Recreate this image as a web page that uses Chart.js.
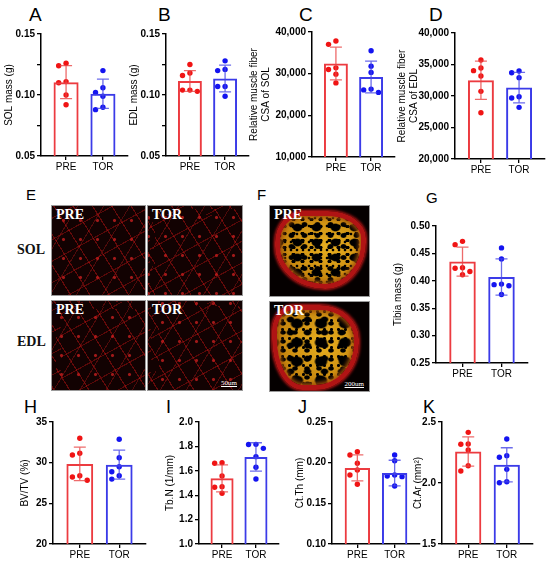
<!DOCTYPE html>
<html><head><meta charset="utf-8">
<script src="https://cdn.jsdelivr.net/npm/chart.js@4.4.0/dist/chart.umd.min.js"></script>
<style>
body{margin:0;background:#fff;}
#wrap{position:relative;width:550px;height:565px;overflow:hidden;font-family:'Liberation Sans',Arial,sans-serif;background:#fff;}
canvas{position:absolute;}
.lt{position:absolute;color:#000;font-family:'Liberation Sans',Arial,sans-serif;}
.img{position:absolute;border:1px solid #9a9a9a;box-sizing:border-box;overflow:hidden;background:#050000;}
.muscle{background-color:#120202;
 background-image:
  repeating-linear-gradient(58deg, transparent 0 15.3px, rgba(200,20,20,.45) 15.3px 16.4px),
  repeating-linear-gradient(-29deg, transparent 0 17.7px, rgba(190,18,18,.4) 17.7px 18.8px),
  repeating-linear-gradient(121deg, transparent 0 21.4px, rgba(220,30,30,.3) 21.4px 22.4px),
  radial-gradient(circle, rgba(255,40,40,.6) 0 8%, transparent 16%);
 background-size:auto, auto, auto, 17px 19px;
 background-position:0 0, 0 0, 0 0, 3px 5px;}
.il{position:absolute;left:4px;top:1px;color:#fff;font:bold 14px 'Liberation Serif','DejaVu Serif',serif;}
.rl{position:absolute;font:bold 14px 'Liberation Serif','DejaVu Serif',serif;color:#111;}
.sb{position:absolute;right:5px;bottom:3px;color:#fff;font:7px 'Liberation Serif',serif;text-decoration:underline;}
.bone{position:absolute;box-sizing:border-box;border:5px solid #b01414;box-shadow:0 0 3px 1px #c81818, inset 0 0 4px 2px #a05008;
 background-image:
  radial-gradient(ellipse, #000 0 26%, transparent 40%),
  radial-gradient(ellipse, #000 0 24%, transparent 38%),
  radial-gradient(circle, #000 0 20%, transparent 34%),
  radial-gradient(ellipse, #000 0 30%, transparent 42%),
  radial-gradient(ellipse at 60% 45%, #e8b020 0, #c98a10 60%, #b87a0c 100%);
 background-size:9px 7px, 13px 11px, 6px 8px, 19px 15px, auto;
 background-position:0 0, 5px 3px, 2px 6px, 8px 4px, 0 0;}
</style></head>
<body><div id="wrap">
 <div class="lt" style="left:29px;top:5px;font-size:19px;line-height:19px;">A</div>
 <div class="lt" style="left:158px;top:5px;font-size:19px;line-height:19px;">B</div>
 <div class="lt" style="left:299px;top:5px;font-size:19px;line-height:19px;">C</div>
 <div class="lt" style="left:429px;top:5px;font-size:19px;line-height:19px;">D</div>
 <div class="lt" style="left:26px;top:187px;font-size:15px;line-height:15px;">E</div>
 <div class="lt" style="left:257px;top:187px;font-size:15px;line-height:15px;">F</div>
 <div class="lt" style="left:426px;top:190px;font-size:15px;line-height:15px;">G</div>
 <div class="lt" style="left:24px;top:398px;font-size:18px;line-height:18px;">H</div>
 <div class="lt" style="left:166px;top:398px;font-size:18px;line-height:18px;">I</div>
 <div class="lt" style="left:298px;top:398px;font-size:18px;line-height:18px;">J</div>
 <div class="lt" style="left:423px;top:398px;font-size:18px;line-height:18px;">K</div>

 <div class="rl" style="left:17px;top:242px;">SOL</div>
 <div class="rl" style="left:17px;top:334px;">EDL</div>
 <div class="img muscle" style="left:51px;top:205px;width:95px;height:91px;"><div class="il">PRE</div></div>
 <div class="img muscle" style="left:147px;top:205px;width:96px;height:91px;background-position:7px 3px,2px 9px,5px 0,9px 2px;"><div class="il">TOR</div></div>
 <div class="img muscle" style="left:51px;top:300px;width:95px;height:91px;background-position:4px 8px,9px 1px,0 6px,1px 7px;"><div class="il">PRE</div></div>
 <div class="img muscle" style="left:147px;top:300px;width:96px;height:91px;background-position:11px 5px,3px 3px,8px 10px,6px 12px;"><div class="il">TOR</div><div class="sb">50um</div></div>

 <div class="img" style="left:269px;top:205px;width:101px;height:92px;">
  <div class="bone" style="left:5px;top:5px;width:91px;height:78px;border-radius:30% 42% 45% 55% / 40% 35% 60% 55%;"></div>
  <div class="il">PRE</div></div>
 <div class="img" style="left:269px;top:301px;width:101px;height:91px;">
  <div class="bone" style="left:2px;top:3px;width:87px;height:85px;border-radius:25% 45% 50% 35% / 30% 40% 55% 60%;background-size:12px 9px, 17px 13px, 7px 9px, 24px 19px, auto;"></div>
  <div class="il">TOR</div><div class="sb">200um</div></div>
</div>
<script>
const categories = ['PRE','TOR'];

// A: SOL mass (g)
const aMean = [0.1105, 0.101];
const aSD   = [0.0135, 0.012];
const aPre  = [0.126, 0.124, 0.111, 0.110, 0.100, 0.092];
const aTor  = [0.120, 0.106, 0.102, 0.099, 0.090, 0.088];
const aTickValues = [0.05, 0.075, 0.10, 0.125, 0.15];
const aTickLabels = ['0.05', '', '0.10', '', '0.15'];

// B: EDL mass (g)
const bMean = [0.1115, 0.1135];
const bSD   = [0.0085, 0.011];
const bPre  = [0.125, 0.118, 0.116, 0.104, 0.104, 0.103];
const bTor  = [0.128, 0.121, 0.120, 0.107, 0.107, 0.099];
const bTickValues = [0.05, 0.075, 0.10, 0.125, 0.15];
const bTickLabels = ['0.05', '', '0.10', '', '0.15'];

// C: Relative muscle fiber CSA of SOL
const cMean = [32450, 29200];
const cSD   = [3930, 3800];
const cPre  = [37830, 37040, 31400, 31010, 29880, 27790];
const cTor  = [35500, 31800, 30300, 26300, 26100, 25500];
const cTickValues = [10000, 20000, 30000, 40000];
const cTickLabels = ['10,000', '20,000', '30,000', '40,000'];

// D: Relative muscle fiber CSA of EDL
const dMean = [32500, 31330];
const dSD   = [3040, 2430];
const dPre  = [35710, 34440, 34020, 33170, 30740, 27350];
const dTor  = [33970, 33700, 32910, 29890, 29680, 28200];
const dTickValues = [20000, 25000, 30000, 35000, 40000];
const dTickLabels = ['20,000', '25,000', '30,000', '35,000', '40,000'];

// G: Tibia mass (g)
const gMean = [0.435, 0.407];
const gSD   = [0.0265, 0.033];
const gPre  = [0.472, 0.466, 0.424, 0.423, 0.417, 0.411];
const gTor  = [0.460, 0.440, 0.394, 0.391, 0.393, 0.375];
const gTickValues = [0.25, 0.30, 0.35, 0.40, 0.45, 0.50];
const gTickLabels = ['0.25', '0.30', '0.35', '0.40', '0.45', '0.50'];

// H: BV/TV (%)
const hMean = [29.85, 29.75];
const hSD   = [2.07, 1.78];
const hPre  = [33.0, 31.15, 30.94, 28.4, 28.23, 27.83];
const hTor  = [32.87, 30.6, 29.5, 28.88, 28.4, 27.98];
const hTickValues = [20, 25, 30, 35];
const hTickLabels = ['20', '25', '30', '35'];

// I: Tb.N (1/mm)
const iMean = [1.538, 1.714];
const iSD   = [0.11, 0.116];
const iPre  = [1.667, 1.662, 1.557, 1.47, 1.465, 1.416];
const iTor  = [1.817, 1.815, 1.784, 1.716, 1.629, 1.533];
const iTickValues = [1.0, 1.2, 1.4, 1.6, 1.8, 2.0];
const iTickLabels = ['1.0', '1.2', '1.4', '1.6', '1.8', '2.0'];

// J: Ct.Th (mm)
const jMean = [0.1935, 0.1872];
const jSD   = [0.016, 0.0158];
const jPre  = [0.2135, 0.2094, 0.1992, 0.191, 0.1848, 0.1734];
const jTor  = [0.2094, 0.2024, 0.1848, 0.1836, 0.1828, 0.1714];
const jTickValues = [0.10, 0.15, 0.20, 0.25];
const jTickLabels = ['0.10', '0.15', '0.20', '0.25'];

// K: Ct.Ar (mm²)
const kMean = [2.258, 2.149];
const kSD   = [0.12, 0.14];
const kPre  = [2.415, 2.32, 2.318, 2.27, 2.142, 2.098];
const kTor  = [2.361, 2.224, 2.211, 2.112, 2.01, 2.002];
const kTickValues = [1.5, 2.0, 2.5];
const kTickLabels = ['1.5', '2.0', '2.5'];

const panels = [
 {title:'SOL mass (g)', mean:aMean, sd:aSD, pre:aPre, tor:aTor, tv:aTickValues, tl:aTickLabels, L:{axisX:41,right:128,top:34,bottom:156,titleX:9.5}},
 {title:'EDL mass (g)', mean:bMean, sd:bSD, pre:bPre, tor:bTor, tv:bTickValues, tl:bTickLabels, L:{axisX:166,right:249,top:34,bottom:156,titleX:134}},
 {title:['Relative muscle fiber','CSA of SOL'], mean:cMean, sd:cSD, pre:cPre, tor:cTor, tv:cTickValues, tl:cTickLabels, L:{axisX:312,right:395,top:32,bottom:157,titleX:254}},
 {title:['Relative muscle fiber','CSA of EDL'], mean:dMean, sd:dSD, pre:dPre, tor:dTor, tv:dTickValues, tl:dTickLabels, L:{axisX:455,right:545,top:33,bottom:159,titleX:402.5}},
 {title:'Tibia mass (g)', mean:gMean, sd:gSD, pre:gPre, tor:gTor, tv:gTickValues, tl:gTickLabels, L:{axisX:436,right:528,top:226,bottom:363,titleX:398}},
 {title:'BV/TV (%)', mean:hMean, sd:hSD, pre:hPre, tor:hTor, tv:hTickValues, tl:hTickLabels, L:{axisX:53,right:146,top:422,bottom:544,titleX:25}},
 {title:'Tb.N (1/mm)', mean:iMean, sd:iSD, pre:iPre, tor:iTor, tv:iTickValues, tl:iTickLabels, L:{axisX:199,right:279,top:422,bottom:544,titleX:170}},
 {title:'Ct.Th (mm)', mean:jMean, sd:jSD, pre:jPre, tor:jTor, tv:jTickValues, tl:jTickLabels, L:{axisX:332,right:420,top:422,bottom:544,titleX:300}},
 {title:'Ct.Ar (mm²)', mean:kMean, sd:kSD, pre:kPre, tor:kTor, tv:kTickValues, tl:kTickLabels, L:{axisX:442,right:533,top:422,bottom:544,titleX:418}},
];

const barColors = ['#ec3b40', '#3b3be8'];
const dotColors = ['#f01414', '#1414f0'];
const errColors = ['rgba(232,70,70,0.8)', 'rgba(70,70,230,0.8)'];
const XMIN = -0.68, XMAX = 1.68;

Chart.defaults.font.family = "'Liberation Sans', Arial, sans-serif";

const errPlugin = {
  id: 'err',
  afterDatasetDraw(chart, args, opts) {
    if (args.index !== 0) return;
    const ctx = chart.ctx, x = chart.scales.x, y = chart.scales.y;
    opts.mean.forEach((m, i) => {
      const px = x.getPixelForValue(i);
      const yt = y.getPixelForValue(m + opts.sd[i]);
      const yb = y.getPixelForValue(m - opts.sd[i]);
      const cap = 6;
      ctx.save();
      ctx.strokeStyle = errColors[i];
      ctx.lineWidth = 1.3;
      ctx.beginPath();
      ctx.moveTo(px, yt); ctx.lineTo(px, yb);
      ctx.moveTo(px - cap, yt); ctx.lineTo(px + cap, yt);
      ctx.moveTo(px - cap, yb); ctx.lineTo(px + cap, yb);
      ctx.stroke();
      ctx.restore();
    });
  }
};

function swarm(vals, center, pxPerY, pxPerX) {
  const d = 5.4, gap = 7.4;
  const placed = [];
  const out = new Array(vals.length);
  const order = vals.map((v, i) => i).sort((a, b) => vals[b] - vals[a]);
  order.forEach(i => {
    const yy = vals[i] * pxPerY;
    const cands = [0];
    for (let k = 1; k < 6; k++) cands.push(-k * gap, k * gap);
    for (const dx of cands) {
      if (placed.every(q => Math.hypot(q.x - dx, q.y - yy) >= d)) {
        placed.push({x: dx, y: yy});
        out[i] = {x: center + dx / pxPerX, y: vals[i]};
        break;
      }
    }
  });
  return out;
}

const wrap = document.getElementById('wrap');
panels.forEach(p => {
  const L = p.L;
  const tSize = 10, tLH = 1.2, lh = tSize * tLH;
  const canvasLeft = Math.floor(L.titleX - lh / 2 - 2);
  const padTop = L.titleX - canvasLeft - lh / 2;
  const Wy = L.axisX - canvasLeft;
  const pt = 8, Hx = 22, pr = 4;
  const cTop = L.top - pt;
  const W = L.right - canvasLeft + pr;
  const H = L.bottom - L.top + pt + Hx;
  const cv = document.createElement('canvas');
  cv.width = W; cv.height = H;
  cv.style.left = canvasLeft + 'px'; cv.style.top = cTop + 'px';
  cv.style.width = W + 'px'; cv.style.height = H + 'px';
  wrap.appendChild(cv);

  const ymin = p.tv[0], ymax = p.tv[p.tv.length - 1];
  const pxPerY = (L.bottom - L.top) / (ymax - ymin);
  const pxPerX = (L.right - L.axisX) / (XMAX - XMIN);

  new Chart(cv, {
    type: 'bar',
    data: {
      datasets: [
        {type: 'bar', data: p.mean.map((m, i) => ({x: i, y: m})),
         backgroundColor: 'rgba(255,255,255,0)', borderColor: barColors, borderWidth: 2,
         borderSkipped: 'start', barPercentage: 0.68, categoryPercentage: 1},
        {type: 'scatter', data: swarm(p.pre, 0, pxPerY, pxPerX),
         pointRadius: 2.7, pointBackgroundColor: dotColors[0], pointBorderWidth: 0},
        {type: 'scatter', data: swarm(p.tor, 1, pxPerY, pxPerX),
         pointRadius: 2.7, pointBackgroundColor: dotColors[1], pointBorderWidth: 0}
      ]
    },
    options: {
      responsive: false, animation: false,
      layout: {autoPadding: false, padding: {top: pt, right: pr, left: 0, bottom: 0}},
      plugins: {legend: {display: false}, tooltip: {enabled: false},
        err: {mean: p.mean, sd: p.sd}},
      scales: {
        x: {type: 'linear', min: XMIN, max: XMAX, offset: false,
          afterBuildTicks: s => { s.ticks = categories.map((c, i) => ({value: i})); },
          afterFit: s => { s.height = Hx; },
          ticks: {callback: v => categories[v], font: {size: 10}, color: '#000', padding: 1, maxRotation: 0, autoSkip: false},
          grid: {display: true, offset: false, drawOnChartArea: false, drawTicks: true, tickLength: 4, color: '#000', lineWidth: 1.3},
          border: {display: true, color: '#000', width: 1.5}},
        y: {type: 'linear', min: ymin, max: ymax, beginAtZero: false,
          afterBuildTicks: s => { s.ticks = p.tv.map(v => ({value: v})); },
          afterFit: s => { s.width = Wy; },
          ticks: {callback: (v, i) => p.tl[i], font: {size: 10, weight: 'bold'}, color: '#000', padding: 2, autoSkip: false},
          grid: {display: true, drawOnChartArea: false, drawTicks: true, tickLength: 4, color: '#000', lineWidth: 1.3},
          border: {display: true, color: '#000', width: 1.5},
          title: {display: true, text: p.title, font: {size: tSize, lineHeight: tLH}, color: '#000', padding: {top: padTop, bottom: 0}}}
      }
    },
    plugins: [errPlugin]
  });
});
</script>
</body></html>
